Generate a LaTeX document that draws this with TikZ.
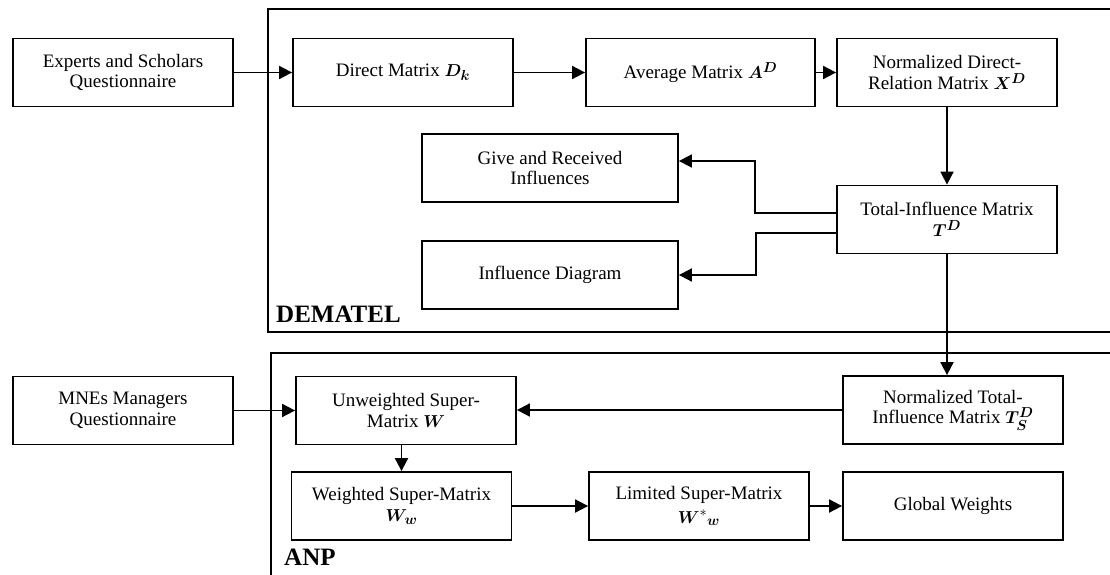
\documentclass[tikz,border=0pt]{standalone}
\usepackage{fontspec}
\setmainfont{Liberation Serif}
\usepackage{amsmath}
\usepackage{bm}
\usepackage{tikz}
\usetikzlibrary{arrows.meta}
\usetikzlibrary{positioning}
\tikzstyle{block} = [rectangle, draw, line width=1.8pt, align=center,
    minimum width=220pt, minimum height=68pt, inner sep=2pt,
    font=\fontsize{19}{20.7}\selectfont]
\tikzstyle{line} = [draw, line width=1.8pt, -{Triangle[length=13pt,width=13pt]}]
\tikzstyle{frame} = [draw, line width=1.8pt]
\tikzstyle{stage} = [anchor=base west, inner sep=0pt,
    font=\fontsize{25}{25}\selectfont\bfseries]

\begin{document}
\begin{tikzpicture}[x=1pt, y=1pt, node distance=280pt]
  \useasboundingbox (0,0) rectangle (1110,574);
  % Frames
  \path [frame] (1115,565) -- (268,565) -- (268,242) -- (1115,242);
  \path [frame] (1115,221) -- (271,221) -- (271,-5);
  \node [stage] at (276,252) {DEMATEL};
  \node [stage] at (284,9) {ANP};

  % Place nodes
  \node [block] (experts) at (123,501.5) {Experts and Scholars\\Questionnaire};
  \node [block, right of=experts] (direct) {Direct Matrix $\bm{D_k}$};
  \node [block, right of=direct, node distance=297.5pt, minimum width=229pt] (average) {Average Matrix $\bm{A^D}$};
  \node [block, right of=average, node distance=246.5pt] (normdirect) {Normalized Direct-\\Relation Matrix $\bm{X^D}$};
  \node [block, below of=normdirect, node distance=147pt] (total) {Total-Influence Matrix\\$\bm{T^D}$};
  \node [block, minimum width=256pt] (give) at (550,406) {Give and Received\\Influences};
  \node [block, below of=give, node distance=107pt, minimum width=256pt] (diagram) {Influence Diagram};
  \node [block] (normtotal) at (953,164) {Normalized Total-\\Influence Matrix $\bm{T^D_S}$};
  \node [block] (unweighted) at (406,163.5) {Unweighted Super-\\Matrix $\bm{W}$};
  \node [block, left of=unweighted, node distance=283pt] (managers) {MNEs Managers\\Questionnaire};
  \node [block] (weighted) at (401.5,68) {Weighted Super-Matrix\\$\bm{W_w}$};
  \node [block, right of=weighted, node distance=297.5pt] (limited) {Limited Super-Matrix\\[3pt]$\bm{W}^{*}\bm{{}_{w}}$};
  \node [block, right of=limited, node distance=254pt] (global) {Global Weights};

  % Draw edges
  \path [line] (experts) -- (direct);
  \path [line] (direct) -- (average);
  \path [line] (average) -- (normdirect);
  \path [line] (normdirect) -- (total);
  \path [line] ([yshift=6.5pt]total.west) -- ++(-81pt,0) |- ([yshift=7pt]give.east);
  \path [line] ([yshift=-13.5pt]total.west) -- ++(-80pt,0) |- (diagram.east);
  \path [line] (total.south) -- (total.south |- normtotal.north);
  \path [line] (normtotal.west) -- (normtotal.west -| unweighted.east);
  \path [line] (managers.east) -- (managers.east -| unweighted.west);
  \path [line] (unweighted.south -| weighted.north) -- (weighted.north);
  \path [line] (weighted) -- (limited);
  \path [line] (limited) -- (global);
\end{tikzpicture}
\end{document}
